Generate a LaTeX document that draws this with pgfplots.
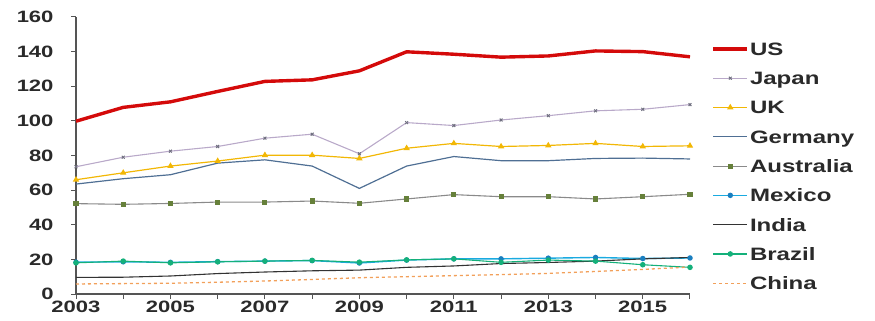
\documentclass[border=0pt]{standalone}
\usepackage{pgfplots}
\pgfplotsset{compat=1.18}
\usepackage{fontspec}
\setmainfont{Liberation Sans}[FakeStretch=1.34]
\definecolor{usred}{HTML}{D40A0A}
\definecolor{japan}{HTML}{B9A9C9}
\definecolor{japanm}{HTML}{707080}
\definecolor{uk}{HTML}{F2B705}
\definecolor{ger}{HTML}{4F6F94}
\definecolor{aus}{HTML}{8A8A8A}
\definecolor{ausm}{HTML}{66803A}
\definecolor{mex}{HTML}{1AAAE0}
\definecolor{mexm}{HTML}{1A7FC0}
\definecolor{ind}{HTML}{333333}
\definecolor{bra}{HTML}{14B07A}
\definecolor{chn}{HTML}{F2A05A}
\definecolor{axisgray}{HTML}{555555}
\definecolor{txt}{HTML}{2A2A2A}
\begin{document}
\begin{tikzpicture}
\useasboundingbox (0bp,0bp) rectangle (875bp,321bp);
\begin{axis}[
  at={(76bp,27bp)}, anchor=origin,
  scale only axis, width=614bp, height=277bp,
  xmin=2003, xmax=2016, ymin=0, ymax=160,
  axis x line=bottom, axis y line=left,
  axis line style={axisgray, line width=1.2pt, -},
  xtick={2003,...,2016},
  xticklabels={2003,,2005,,2007,,2009,,2011,,2013,,2015,},
  ytick={0,20,...,160},
  tick align=outside, major tick length=5bp,
  tick style={axisgray, line width=1pt},
  ticklabel style={font=\fontsize{16.5}{18}\selectfont\bfseries, text=txt},
  /pgf/number format/assume math mode=true,
  /pgf/number format/1000 sep={},
  xticklabel style={yshift=1bp},
  yticklabel style={xshift=-14bp},
  clip=false,
  legend style={draw=none, fill=none, at={(1.03,0.92)}, anchor=north west,
    font=\fontsize{18}{20}\selectfont\bfseries, text=txt, row sep=14.3bp,
    nodes={inner sep=1bp, text height=13bp, text depth=0pt}},
  legend cell align=left,
  legend image code/.code={\draw[mark repeat=2, mark phase=2] plot coordinates {(0bp,0bp) (17bp,0bp) (34bp,0bp)};},
]
\addplot[usred, line width=3.4pt] coordinates {(2003,99.8)(2004,107.8)(2005,111)(2006,117)(2007,122.8)(2008,123.7)(2009,128.9)(2010,139.9)(2011,138.5)(2012,136.8)(2013,137.5)(2014,140.4)(2015,140)(2016,137)};
\addlegendentry{US}
\addplot[japan, line width=1.1pt, mark=x, mark size=2bp, mark options={japanm, line width=1pt}] coordinates {(2003,73.5)(2004,79)(2005,82.5)(2006,85.2)(2007,90)(2008,92.3)(2009,81)(2010,99)(2011,97.3)(2012,100.5)(2013,103)(2014,105.8)(2015,106.7)(2016,109.4)};
\addlegendentry{Japan}
\addplot[uk, line width=1.2pt, mark=triangle*, mark size=2.5bp, mark options={uk}] coordinates {(2003,66)(2004,70)(2005,73.9)(2006,76.8)(2007,80.2)(2008,80.2)(2009,78.3)(2010,84.2)(2011,87)(2012,85.2)(2013,85.8)(2014,87)(2015,85.2)(2016,85.6)};
\addlegendentry{UK}
\addplot[ger, line width=1.2pt] coordinates {(2003,63.5)(2004,66.6)(2005,68.9)(2006,75.6)(2007,77.5)(2008,73.9)(2009,61)(2010,73.9)(2011,79.4)(2012,77)(2013,77)(2014,78.3)(2015,78.5)(2016,78)};
\addlegendentry{Germany}
\addplot[aus, line width=1.1pt, mark=square*, mark size=2bp, mark options={ausm}] coordinates {(2003,52.2)(2004,51.8)(2005,52.3)(2006,53.1)(2007,53.1)(2008,53.7)(2009,52.4)(2010,54.9)(2011,57.4)(2012,56.2)(2013,56.2)(2014,54.9)(2015,56.2)(2016,57.6)};
\addlegendentry{Australia}
\addplot[mex, line width=1.4pt, mark=*, mark size=2bp, mark options={mexm}] coordinates {(2003,18.4)(2004,18.6)(2005,18.3)(2006,18.7)(2007,19)(2008,19.3)(2009,17.9)(2010,19.6)(2011,20.3)(2012,20.3)(2013,20.7)(2014,21.1)(2015,20.5)(2016,20.8)};
\addlegendentry{Mexico}
\addplot[ind, line width=1.1pt] coordinates {(2003,9.6)(2004,9.7)(2005,10.4)(2006,11.8)(2007,12.7)(2008,13.4)(2009,13.8)(2010,15.4)(2011,16.2)(2012,17.6)(2013,18.2)(2014,19)(2015,20.3)(2016,21.1)};
\addlegendentry{India}
\addplot[bra, line width=1.1pt, mark=*, mark size=2.2bp, mark options={bra}] coordinates {(2003,18)(2004,19)(2005,18)(2006,18.6)(2007,19)(2008,19.4)(2009,18.4)(2010,19.7)(2011,20.3)(2012,18.3)(2013,19.6)(2014,19)(2015,16.9)(2016,15.4)};
\addlegendentry{Brazil}
\addplot[chn, line width=1.3pt, dash pattern=on 3bp off 3bp] coordinates {(2003,5.8)(2004,6)(2005,6.2)(2006,6.8)(2007,7.5)(2008,8.4)(2009,9.4)(2010,10)(2011,10.6)(2012,11.2)(2013,11.9)(2014,13)(2015,14.2)(2016,15.6)};
\addlegendentry{China}
\end{axis}
\end{tikzpicture}
\end{document}
